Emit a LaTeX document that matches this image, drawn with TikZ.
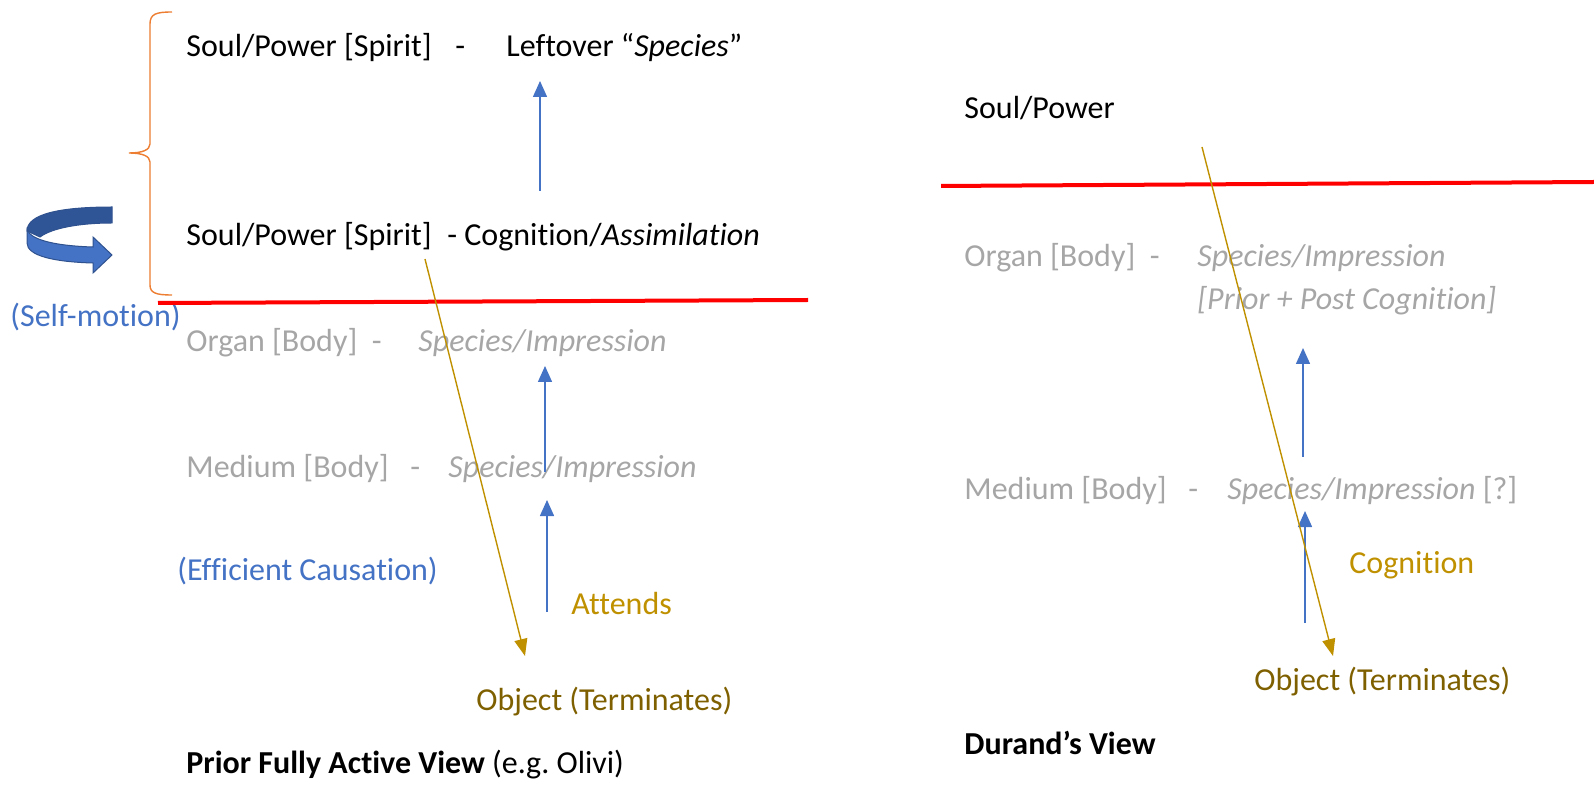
\documentclass[tikz,border=0pt]{standalone}
\usepackage{fontspec}
\setmainfont{Carlito}[Ligatures=NoCommon]
\usetikzlibrary{arrows.meta}
\definecolor{cblue}{HTML}{4472C4}
\definecolor{cdblue}{HTML}{2F5597}
\definecolor{cedge}{HTML}{2F528F}
\definecolor{cgold}{HTML}{BF9000}
\definecolor{cobj}{HTML}{7F6000}
\definecolor{cgray}{HTML}{A6A6A6}
\definecolor{corange}{HTML}{ED7D31}
\frenchspacing
\begin{document}
\begin{tikzpicture}[x=0.5pt,y=-0.5pt,
  every node/.style={inner sep=0pt, anchor=base west, font=\fontsize{16}{19.2}\selectfont},
  gtxt/.style={text=cgray},
  btxt/.style={text=cblue},
  otxt/.style={text=cgold},
  objtxt/.style={text=cobj},
  uparrow/.style={draw=cblue, line width=0.75pt, -{Triangle[width=7pt,length=8pt]}},
  goldarrow/.style={draw=cgold, line width=0.7pt, -{Triangle[width=6.5pt,length=8.5pt]}},
  redline/.style={draw=red, line width=2pt},
  bracestyle/.style={draw=corange, line width=0.7pt}]
\useasboundingbox (0,0) rectangle (1594,785);

% ---------- left panel ----------
\node (s1) at (186,57) {Soul/Power [Spirit]};
\node (s1d) at (455,57) {-};
\node (leftover) at (506,57) {Leftover “\textit{Species}”};
\node (s2) at (186,246) {Soul/Power [Spirit]};
\node (cog) at (447,246) {- Cognition/\textit{Assimilation}};
\node[btxt] (selfm) at (10,327) {(Self-motion)};
\node[gtxt] (organL) at (186,352) {Organ [Body]\ \ -};
\node[gtxt] (spL1) at (418,352) {\textit{Species/Impression}};
\node[gtxt] (mediumL) at (186,478) {Medium [Body]\ \ \ -};
\node[gtxt] (spL2) at (448,478) {\textit{Species/Impression}};
\node[btxt] (eff) at (177,580) {(Efficient Causation)};
\node[otxt] (att) at (571,614) {Attends};
\node[objtxt] (objL) at (476,710) {Object (Terminates)};
\node (prior) at (186,773) {\textbf{Prior Fully Active View} (e.g. Olivi)};

% brace
\draw[bracestyle] (172,12) .. controls (156,12) and (150,14) .. (150,24) -- (150,144)
  .. controls (150,150) and (142,153) .. (129,153)
  .. controls (142,153) and (150,156) .. (150,162) -- (150,285)
  .. controls (150,293) and (156,295) .. (172,295);

% self-motion curved arrow
\fill[cdblue, draw=cedge, line width=0.5pt] (112,207) .. controls (60,207) and (27,214) .. (27,231)
  -- (40,237) .. controls (52,228) and (80,223) .. (112,223) -- cycle;
\fill[cblue, draw=cedge, line width=0.5pt] (27,229) .. controls (30,241) and (60,246) .. (93,247)
  -- (93,237) -- (112,255) -- (93,273) -- (93,263)
  .. controls (55,262) and (27,256) .. (27,243) -- cycle;

% red line
\coordinate (rlA) at (158,303);
\coordinate (rlB) at (808,300);
\draw[redline] (rlA) -- (rlB);

% blue arrows
\coordinate (a1s) at (540,191); \coordinate (a1e) at (540,81);
\draw[uparrow] (a1s) -- (a1e);
\coordinate (a2s) at (545,472); \coordinate (a2e) at (545,366);
\draw[uparrow] (a2s) -- (a2e);
\coordinate (a3s) at (547,612); \coordinate (a3e) at (547,500);
\draw[uparrow] (a3s) -- (a3e);

% gold arrow
\coordinate (g1s) at (425,259); \coordinate (g1e) at (525,656);
\draw[goldarrow] (g1s) -- (g1e);

% ---------- right panel ----------
\node (soulR) at (964,119) {Soul/Power};
\node[gtxt] (organR) at (964,267) {Organ [Body]\ \ -};
\node[gtxt] (spR1) at (1197,267) {\textit{Species/Impression}};
\node[gtxt] (ppR) at (1197,310) {\textit{[Prior + Post Cognition]}};
\node[gtxt] (mediumR) at (964,500) {Medium [Body]\ \ \ -};
\node[gtxt] (spR2) at (1227,500) {\textit{Species/Impression} [?]};
\node[otxt] (cogR) at (1349,573) {Cognition};
\node[objtxt] (objR) at (1254,690) {Object (Terminates)};
\node (durand) at (964,754) {\textbf{Durand’s View}};

\coordinate (rrA) at (941,186);
\coordinate (rrB) at (1594,182);
\draw[redline] (rrA) -- (rrB);

\coordinate (b1s) at (1303,457); \coordinate (b1e) at (1303,348);
\draw[uparrow] (b1s) -- (b1e);
\coordinate (b2s) at (1305,623); \coordinate (b2e) at (1305,511);
\draw[uparrow] (b2s) -- (b2e);

\coordinate (g2s) at (1202,147); \coordinate (g2e) at (1333,656);
\draw[goldarrow] (g2s) -- (g2e);
\end{tikzpicture}
\end{document}
